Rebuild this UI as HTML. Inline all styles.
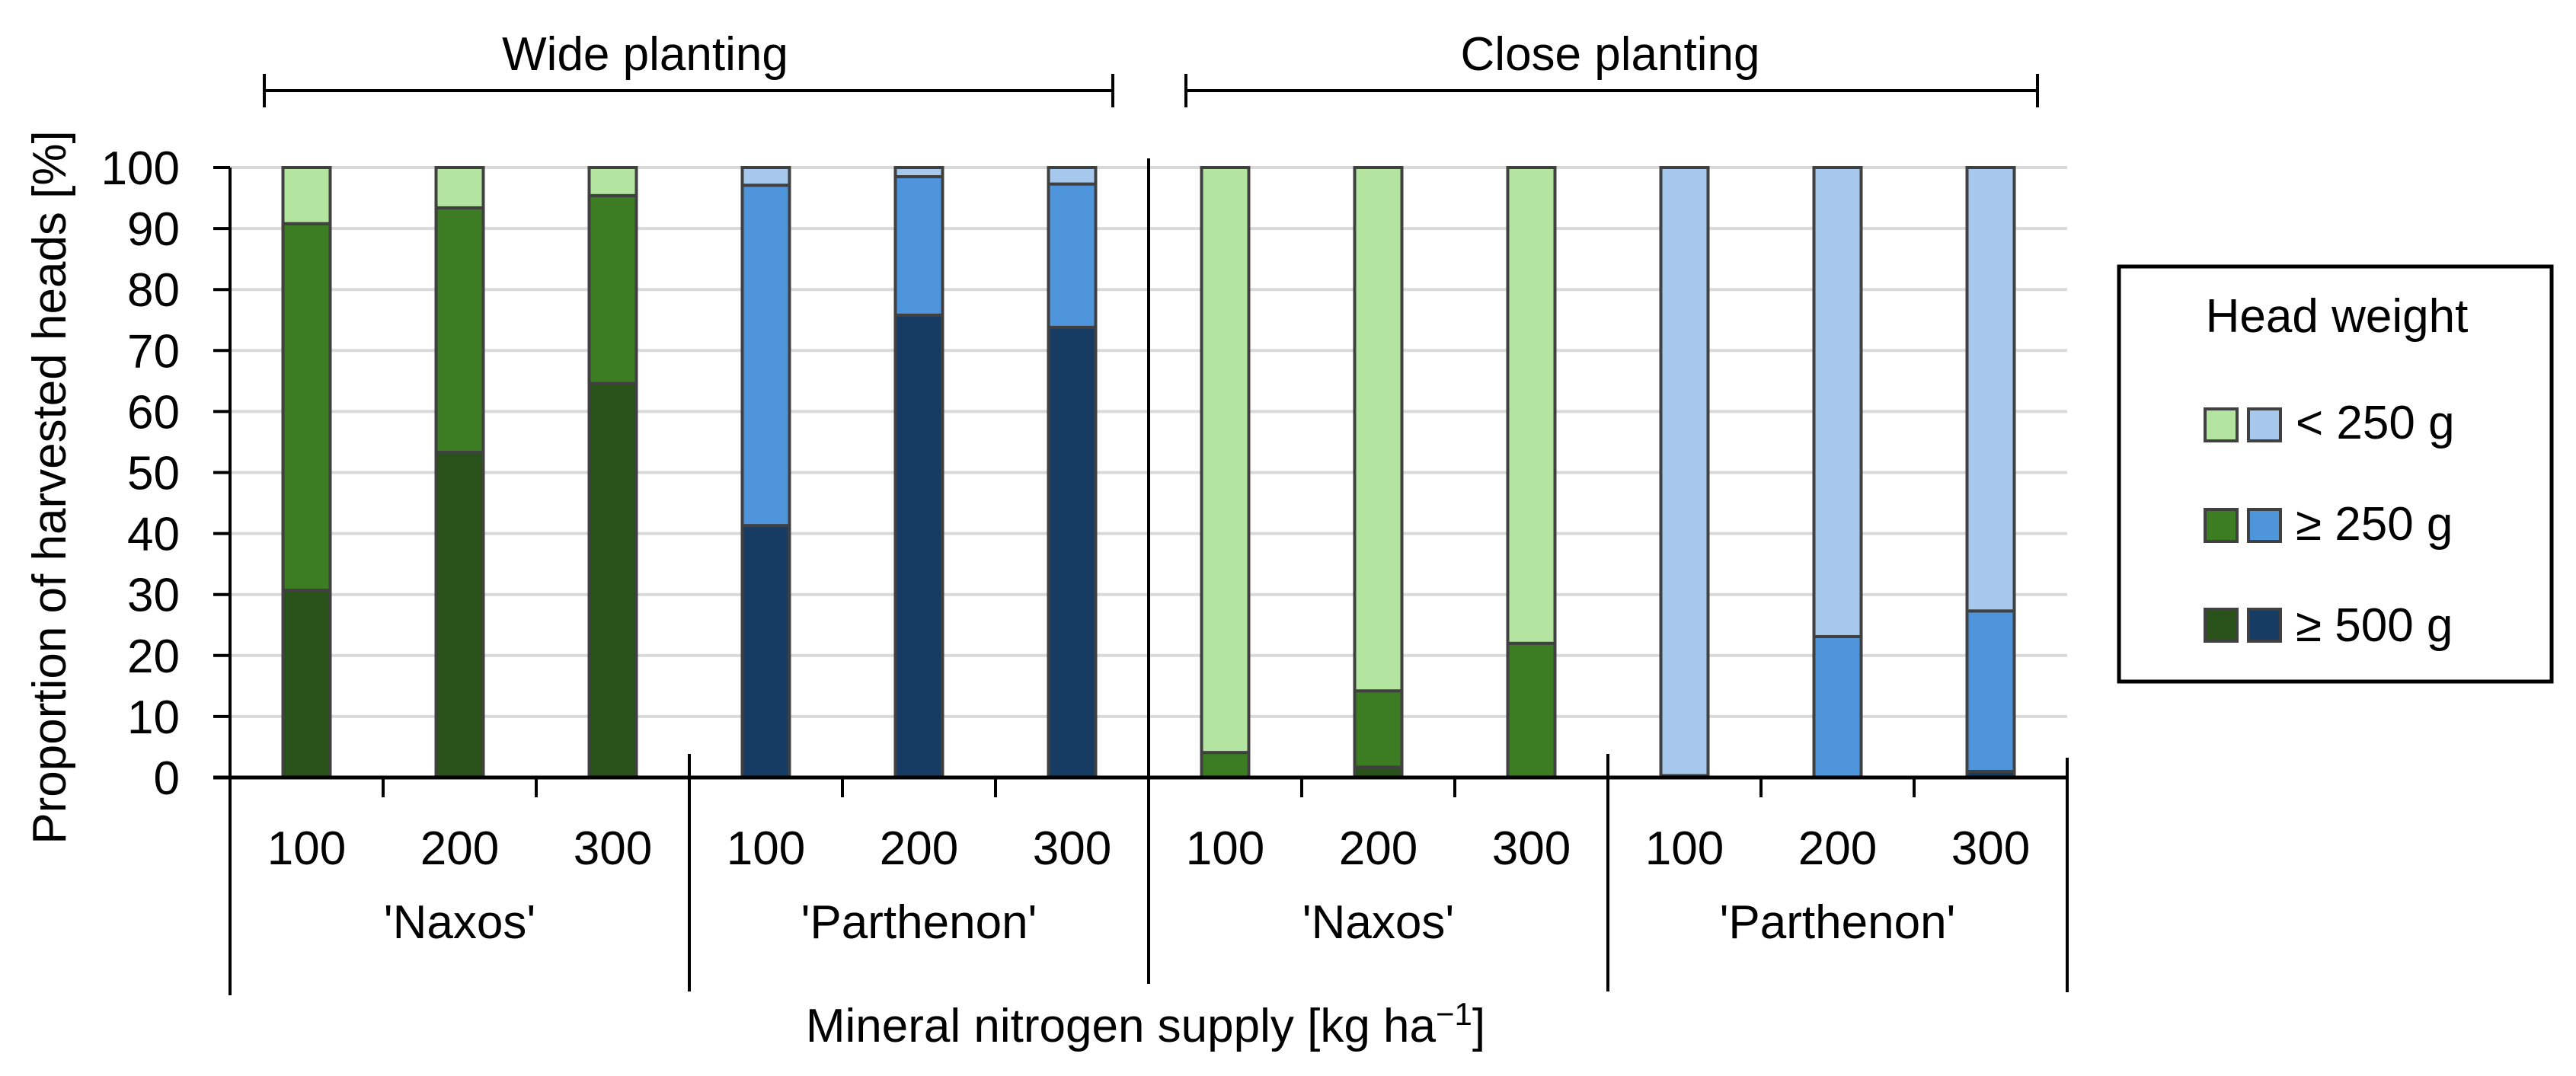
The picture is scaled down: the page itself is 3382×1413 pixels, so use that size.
<!DOCTYPE html>
<html><head><meta charset="utf-8">
<style>
html,body{margin:0;padding:0;background:#fff;}
svg{display:block;}
text{font-family:"Liberation Sans",sans-serif;fill:#000;}
</style></head>
<body>
<svg id="chart" width="3382" height="1413" viewBox="0 0 3382 1413" xmlns="http://www.w3.org/2000/svg">
<g id="grid"></g>
<g id="bars"></g>
<g id="axes"></g>
<g id="labels"></g>
<g id="legend">
  <rect x="2782" y="350" width="568" height="545" fill="#fff" stroke="#000" stroke-width="5"/>
  <text x="3068" y="436" font-size="62" text-anchor="middle">Head weight</text>
  <rect x="2895" y="537" width="42" height="42" fill="#b3e5a0" stroke="#404040" stroke-width="4"/>
  <rect x="2952" y="537" width="42" height="42" fill="#a5c8ec" stroke="#404040" stroke-width="4"/>
  <text x="3014" y="576" font-size="62">&lt; 250 g</text>
  <rect x="2895" y="669" width="42" height="42" fill="#3c7c22" stroke="#404040" stroke-width="4"/>
  <rect x="2952" y="669" width="42" height="42" fill="#4f95db" stroke="#404040" stroke-width="4"/>
  <text x="3014" y="709" font-size="62">≥ 250 g</text>
  <rect x="2895" y="800" width="42" height="42" fill="#285219" stroke="#404040" stroke-width="4"/>
  <rect x="2952" y="800" width="42" height="42" fill="#173c64" stroke="#404040" stroke-width="4"/>
  <text x="3014" y="842" font-size="62">≥ 500 g</text>
</g>
</svg>
<script>
const rates = ["100","200","300","100","200","300","100","200","300","100","200","300"];
const varieties = ["'Naxos'","'Parthenon'","'Naxos'","'Parthenon'"];
const plantings = ["Wide planting","Close planting"];
const yTicks = [0,10,20,30,40,50,60,70,80,90,100];
const heavy = [30.7,53.3,64.6,41.3,75.8,73.8,0,1.7,0,0,0,1];
const medium = [60.1,40.1,30.8,55.8,22.7,23.5,4.1,12.5,22,0.3,23.1,26.3];
const light = [9.2,6.6,4.6,2.9,1.5,2.7,95.9,85.8,78,99.7,76.9,72.7];

const NS="http://www.w3.org/2000/svg";
const X0=302, SLOT=201, Y0=1021, YTOP=220, BW=62;
function xs(i){return X0+SLOT*(i+0.5);}
function ys(v){return Y0-(Y0-YTOP)*v/100;}
function mk(tag,attrs,parent){const e=document.createElementNS(NS,tag);for(const k in attrs)e.setAttribute(k,attrs[k]);parent.appendChild(e);return e;}
const grid=document.getElementById('grid'),bars=document.getElementById('bars'),axes=document.getElementById('axes'),labels=document.getElementById('labels');

yTicks.forEach(t=>{
  if(t>0){const g=mk('line',{x1:X0,x2:X0+SLOT*12,y1:ys(t),y2:ys(t),stroke:'#d9d9d9','stroke-width':4},grid);
  
  }
  const tk=mk('line',{x1:280,x2:X0,y1:ys(t),y2:ys(t),stroke:'#000','stroke-width':4},axes);
  
  
  const tx=mk('text',{x:236,y:ys(t)+22,'font-size':62,'text-anchor':'end'},labels);
  tx.textContent=t;
  
  
});

const greens=['#285219','#3c7c22','#b3e5a0'], blues=['#173c64','#4f95db','#a5c8ec'];
rates.forEach((r,i)=>{
  const pal=(Math.floor(i/3)%2===0)?greens:blues;
  const segs=[heavy[i],medium[i],light[i]];
  const names=['ge500','ge250','lt250'];
  let base=0;
  segs.forEach((v,k)=>{
    if(v<=0){return;}
    const top=base+v;
    const rc=mk('rect',{x:xs(i)-BW/2,y:ys(top),width:BW,height:ys(base)-ys(top),fill:pal[k],stroke:'#404040','stroke-width':4},bars);
    
    
    base=top;
  });
  const lb=mk('text',{x:xs(i),y:1135,'font-size':62,'text-anchor':'middle'},labels);
  lb.textContent=r;
  
  
});

let a=mk('line',{x1:X0,x2:X0,y1:YTOP,y2:1307,stroke:'#000','stroke-width':4},axes);


a=mk('line',{x1:280,x2:X0+SLOT*12+2,y1:Y0,y2:Y0,stroke:'#000','stroke-width':5},axes);


for(let b=1;b<=12;b++){
  const x=X0+SLOT*b;
  let y1,y2;
  if(b%3!==0){y1=Y0;y2=1047;}
  else if(b===6){y1=208;y2=1292;}
  else if(b===12){y1=995;y2=1303;}
  else {y1=990;y2=1302;}
  const l=mk('line',{x1:x,x2:x,y1:y1,y2:y2,stroke:'#000','stroke-width':4},axes);
  
  
}
varieties.forEach((v,j)=>{
  const t=mk('text',{x:X0+SLOT*(3*j+1.5),y:1232,'font-size':62,'text-anchor':'middle'},labels);
  t.textContent=v;
  
  
});
const br=[[347,1461,847],[1557,2675,2114]];
plantings.forEach((p,j)=>{
  const [x1,x2,cx]=br[j];
  const g=mk('path',{d:`M${x1} 97V141M${x1} 119H${x2}M${x2} 97V141`,stroke:'#000','stroke-width':4,fill:'none'},axes);
  
  
  const t=mk('text',{x:cx,y:92,'font-size':62,'text-anchor':'middle'},labels);
  t.textContent=p;
  
  
});
let t=mk('text',{x:1504,y:1368,'font-size':62,'text-anchor':'middle'},labels);
t.innerHTML='Mineral nitrogen supply [kg ha<tspan dy="-22" font-size="42">−1</tspan><tspan dy="22">]</tspan>';


t=mk('text',{x:0,y:0,'font-size':62,'text-anchor':'middle',transform:'translate(86 640) rotate(-90)'},labels);
t.textContent='Proportion of harvested heads [%]';


</script>
</body></html>
